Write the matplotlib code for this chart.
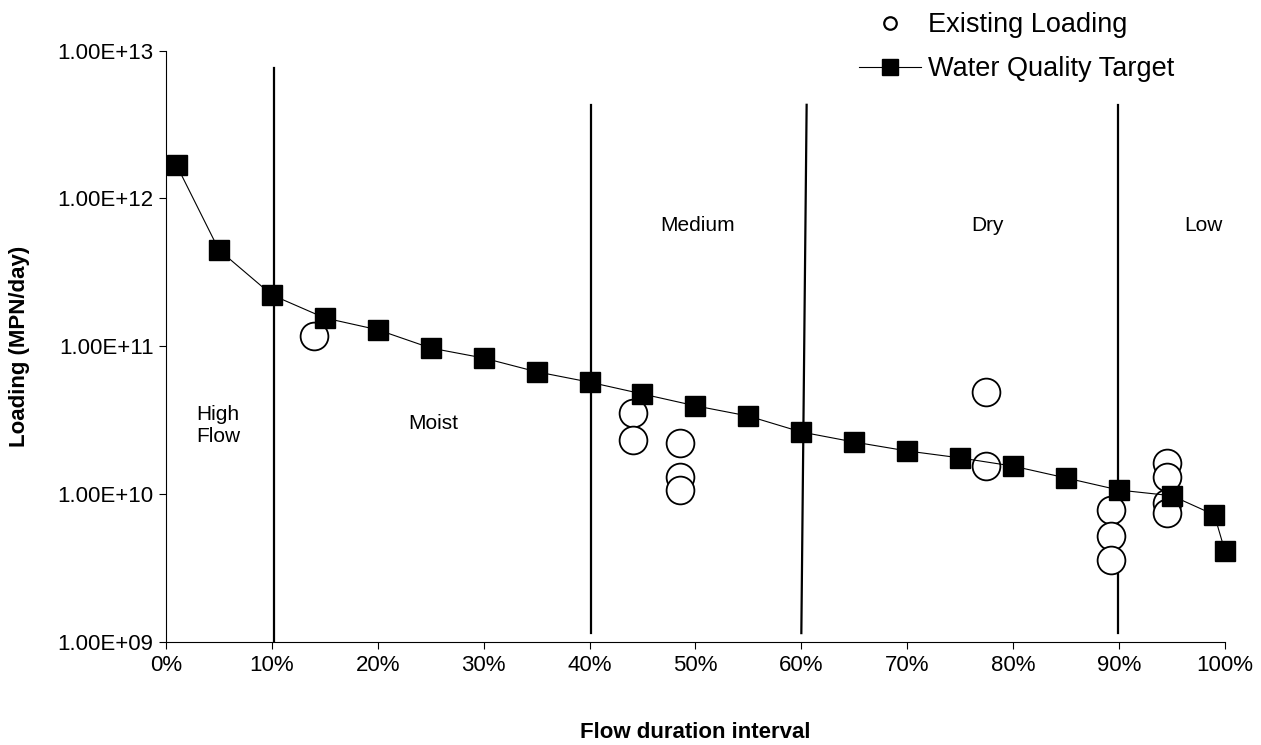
import numpy as np
import matplotlib.pyplot as plt
from matplotlib.ticker import FixedLocator, FuncFormatter, NullLocator

plt.rcParams['font.family'] = ['Liberation Sans', 'DejaVu Sans']

# water quality target (flow duration %, MPN/day)
target_x = [1, 5, 10, 15, 20, 25, 30, 35, 40, 45, 50, 55, 60, 65, 70, 75, 80, 85, 90, 95, 99, 100]
target_y = [1.68e12, 4.48e11, 2.22e11, 1.55e11, 1.29e11, 9.7e10, 8.3e10, 6.7e10, 5.7e10, 4.74e10,
            3.94e10, 3.36e10, 2.62e10, 2.24e10, 1.95e10, 1.75e10, 1.54e10, 1.28e10, 1.06e10, 9.7e9,
            7.2e9, 4.1e9]

# existing loading samples
exist_x = [14.0, 44.1, 44.1, 48.5, 48.5, 48.5, 77.4, 77.4, 89.2, 89.2, 89.2, 94.5, 94.5, 94.5, 94.5]
exist_y = [1.17e11, 3.52e10, 2.31e10, 2.21e10, 1.30e10, 1.06e10, 4.9e10, 1.54e10, 7.77e9, 5.17e9,
           3.56e9, 1.61e10, 1.30e10, 8.67e9, 7.42e9]

# zone dividers: (x_top, x_bottom, y_top, y_bottom)
dividers = [(10.2, 10.2, 7.6e12, 1e9),
            (40.1, 40.1, 4.3e12, 1.14e9),
            (60.5, 60.0, 4.3e12, 1.14e9),
            (89.9, 89.9, 4.3e12, 1.14e9)]

zone_labels = ["High\nFlow", "Moist", "Medium", "Dry", "Low"]
zone_x = [4.9, 25.2, 50.2, 77.6, 98.0]
zone_y = [2.9e10, 3.0e10, 6.6e11, 6.6e11, 6.6e11]

fig = plt.figure(figsize=(12.61, 7.45), dpi=100)
ax = fig.add_axes([0.1316, 0.1389, 0.8398, 0.7931])

ax.set_yscale('log')
ax.set_xlim(0, 100)
ax.set_ylim(1e9, 1e13)

for xt, xb, yt, yb in dividers:
    ax.plot([xt, xb], [yt, yb], color='black', lw=1.6, zorder=2)

ax.plot(exist_x, exist_y, linestyle='none', marker='o', markersize=20,
        markerfacecolor='white', markeredgecolor='black', markeredgewidth=1.3,
        zorder=3, label='Existing Loading')
ax.plot(target_x, target_y, color='black', lw=0.8, marker='s', markersize=15,
        markerfacecolor='black', markeredgecolor='black', zorder=4, clip_on=False,
        label='Water Quality Target')

for lab, zx, zy in zip(zone_labels, zone_x, zone_y):
    ax.text(zx, zy, lab, ha='center', va='center', fontsize=15, linespacing=1.2)

ax.spines['top'].set_visible(False)
ax.spines['right'].set_visible(False)
ax.spines['left'].set_linewidth(0.8)
ax.spines['bottom'].set_linewidth(0.8)

ax.xaxis.set_major_locator(FixedLocator(np.arange(0, 101, 10)))
ax.xaxis.set_major_formatter(FuncFormatter(lambda v, p: '%d%%' % v))
ax.yaxis.set_major_locator(FixedLocator([1e9, 1e10, 1e11, 1e12, 1e13]))
ax.yaxis.set_minor_locator(NullLocator())
ax.yaxis.set_major_formatter(FuncFormatter(lambda v, p: '%.2E' % v))
ax.tick_params(direction='out', length=5, width=0.8, labelsize=16)
ax.tick_params(axis='y', pad=4)
ax.tick_params(axis='x', pad=5)

ax.set_xlabel('Flow duration interval', fontsize=16, fontweight='bold', labelpad=33)
ax.set_ylabel('Loading (MPN/day)', fontsize=16, fontweight='bold', labelpad=20)

h, l = ax.get_legend_handles_labels()
leg = fig.legend(h, l, loc='upper left', bbox_to_anchor=(0.662, 1.016), frameon=False,
                 fontsize=19.5, handlelength=2.3, handletextpad=0.25, labelspacing=0.65,
                 markerscale=0.6)
leg.legend_handles[0].set_markersize(9)
leg.legend_handles[0].set_markeredgewidth(1.6)
leg.legend_handles[1].set_markersize(11)

fig.savefig('out.png', dpi=100)
